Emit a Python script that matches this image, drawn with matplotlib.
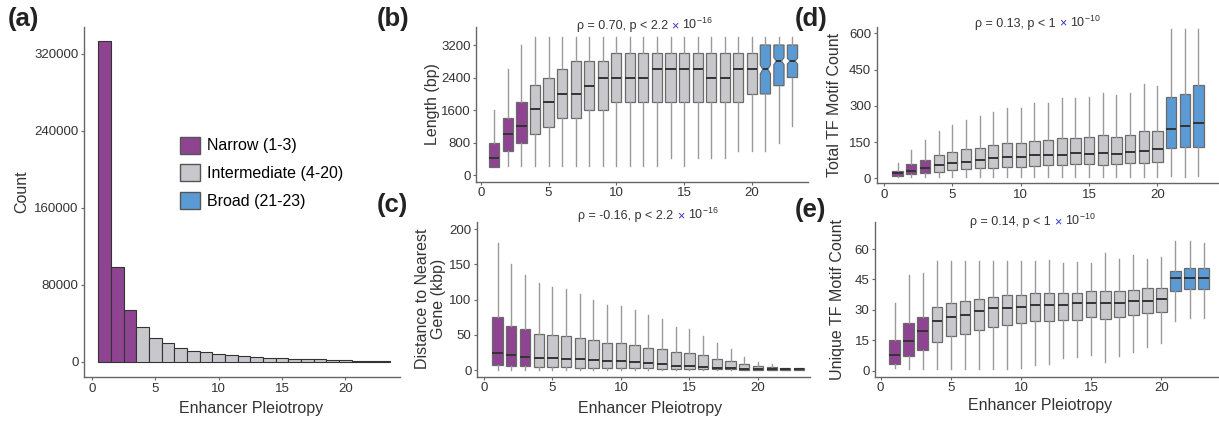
import matplotlib
matplotlib.use("Agg")
import numpy as np
import matplotlib.pyplot as plt
from matplotlib.patches import Patch

plt.rcParams['font.family'] = ['Liberation Sans', 'DejaVu Sans']
plt.rcParams['mathtext.default'] = 'regular'

PURPLE = '#8E4491'
GREY = '#C8C8CC'
BLUE = '#5B9BD5'

pleio = list(range(1, 24))
counts = [333000, 99000, 54000, 36000, 25300, 19400, 14900, 11700, 10700, 8000,
          7300, 6300, 5300, 4600, 4000, 3500, 3000, 2600, 2200, 1800, 1400, 1000, 700]

# (b) enhancer length (bp)
len_lo = [205, 230, 230, 230, 230, 230, 230, 230, 230, 230, 230, 230, 230,
          410, 230, 410, 410, 410, 600, 600, 600, 795, 1205]
len_q1 = [205, 600, 795, 1000, 1190, 1395, 1395, 1600, 1600, 1805, 1805, 1805, 1805,
          1805, 1805, 1805, 1805, 1805, 1805, 1995, 1995, 2200, 2400]
len_med = [410, 1010, 1205, 1615, 1805, 1995, 1995, 2200, 2400, 2400, 2400, 2400, 2600,
           2600, 2600, 2600, 2400, 2400, 2600, 2600, 2600, 2805, 2805]
len_q3 = [795, 1395, 1805, 2205, 2400, 2600, 2805, 2805, 2805, 3010, 3010, 3010, 3010,
          3010, 3010, 3010, 3010, 3010, 3010, 3010, 3200, 3200, 3200]
len_hi = [1600, 2600, 3200] + [3390] * 20

# (c) distance to nearest gene (kbp)
dist_lo = [0] * 23
dist_q1 = [7.1, 6.2, 6.2, 3.8, 3.8, 3.8, 3.5, 3.3, 3, 2.8, 2.5, 2.2, 2, 1.8, 1.5,
           1.3, 1, 0.8, 0.6, 0.5, 0.4, 0.3, 0.3]
dist_med = [23.7, 21.3, 19, 17.5, 16.6, 16, 15.6, 14.7, 13.3, 12.3, 11.4, 10, 8.5,
            6.2, 6, 4.7, 2.4, 2.4, 1.4, 1.4, 1.4, 1.2, 1.2]
dist_q3 = [75.8, 63, 57.8, 51, 50, 48, 46, 42, 39, 39, 35, 32, 30, 26, 24, 21, 15,
           12.8, 8, 6, 4, 3, 3]
dist_hi = [180, 150.7, 135, 124, 117.6, 114.7, 108, 100, 92.4, 91, 85, 78, 72, 61.6,
           57.8, 48, 38, 30, 19, 12, 8, 3.5, 3]

# (d) total TF motif count
tot_lo = [4] + [5] * 19 + [10, 5, 10]
tot_q1 = [11, 18, 21, 28, 34, 39, 41, 41, 45, 48, 51, 55, 55, 59, 59, 55, 59, 62, 62,
          69, 124, 131, 131]
tot_med = [20.7, 32, 41, 54, 62, 68, 76, 83, 87, 90, 97, 97, 97, 103, 101, 103, 101,
           110, 114, 121, 204, 216, 228]
tot_q3 = [31.7, 58, 76, 97, 110, 121, 127, 138, 145, 148, 156, 159, 165, 168, 172, 179,
          172, 179, 197, 197, 338, 349, 386]
tot_hi = [62, 117, 159, 196, 221, 241, 258, 273, 290, 292, 313, 314, 331, 331, 338, 354,
          345, 352, 390, 382, 620, 620, 620]

# (e) unique TF motif count
uni_lo = [1.2, 1, 1, 1, 1, 1, 1, 1, 1, 1.5, 3, 3.3, 6, 6.6, 7.7, 4.4, 7.2, 9.4, 11.5,
          13.5, 24.7, 25.8, 25.8]
uni_q1 = [3.3, 7.4, 10.2, 14.3, 17.3, 18, 20, 21.4, 22.5, 23.3, 24.7, 24.7, 25, 25, 26.3,
          25.3, 26.6, 27.5, 28.3, 29.1, 39.5, 40.1, 40.1]
uni_med = [7.7, 14.6, 19.7, 24.7, 26.6, 27.5, 29.4, 30.7, 30.7, 31.6, 32.4, 32.4, 32.4,
           33.2, 33.2, 33.2, 33.2, 34.5, 34.5, 35.3, 45.5, 45.5, 45.5]
uni_q3 = [15.1, 23.3, 26.3, 31.6, 33.2, 34.5, 35.3, 36.2, 37.3, 37.3, 38.1, 38.1, 38.1,
          38.1, 39.5, 39.5, 39.5, 39.8, 40.6, 40.6, 49.3, 50.5, 50.5]
uni_hi = [33.2, 47.2, 48.3, 54.3, 54.3, 54, 54, 54, 54, 54, 54, 54.6, 53, 53.8, 53, 58,
          55, 57, 55, 56.2, 64, 64, 62.8]

group_colors = [PURPLE] * 3 + [GREY] * 17 + [BLUE] * 3


def style_axes(ax):
    for s in ['top', 'right']:
        ax.spines[s].set_visible(False)
    for s in ['left', 'bottom']:
        ax.spines[s].set_color('#666666')
        ax.spines[s].set_linewidth(1.0)
    ax.tick_params(colors='#666666', labelcolor='#333333', labelsize=9.5, length=2.5,
                   width=0.8, pad=1.5)
    ax.set_xticks([0, 5, 10, 15, 20])


def draw_boxes(ax, lo, q1, med, q3, hi, idx, notch=False):
    stats = []
    for i in idx:
        d = dict(whislo=lo[i], q1=q1[i], med=med[i], q3=q3[i], whishi=hi[i], fliers=[])
        if notch:
            d['cilo'] = med[i] - 0.09 * (q3[i] - q1[i])
            d['cihi'] = med[i] + 0.09 * (q3[i] - q1[i])
        stats.append(d)
    res = ax.bxp(stats, positions=[pleio[i] for i in idx], widths=0.75,
                 patch_artist=True, showfliers=False, showcaps=False,
                 shownotches=notch, manage_ticks=False,
                 boxprops=dict(edgecolor='#6a6a6a', linewidth=0.9),
                 whiskerprops=dict(color='#9a9a9a', linewidth=1.0),
                 medianprops=dict(color='#333333', linewidth=1.4))
    for patch, i in zip(res['boxes'], idx):
        patch.set_facecolor(group_colors[i])


def stat_label(ax, x, y, prefix, exp):
    t1 = ax.text(x, y, prefix, transform=ax.transAxes, fontsize=9, color='#333333',
                 va='baseline', ha='left')
    t2 = ax.annotate('\u00d7', xy=(1, 0), xycoords=t1, xytext=(2.5, 0),
                     textcoords='offset points', fontsize=9, color='#3333CC',
                     va='bottom', ha='left')
    ax.annotate('10$^{' + exp + '}$', xy=(1, 0), xycoords=t2, xytext=(2.5, 0),
                textcoords='offset points', fontsize=9, color='#333333',
                va='bottom', ha='left')


fig = plt.figure(figsize=(12.19, 4.22), dpi=100)

# (a) histogram of pleiotropy
ax_a = fig.add_axes([0.0689, 0.1066, 0.2592, 0.8294])
ax_a.bar(pleio, counts, width=1.0, color=group_colors, edgecolor='#333333', linewidth=0.8)
style_axes(ax_a)
ax_a.set_xlim(-0.63, 24.3)
ax_a.set_ylim(-15600, 348000)
ax_a.set_yticks([0, 80000, 160000, 240000, 320000])
ax_a.set_xlabel('Enhancer Pleiotropy', fontsize=11.5, color='#333333')
ax_a.set_ylabel('Count', fontsize=11.5, color='#333333')
ax_a.yaxis.set_label_coords(-0.196, 0.53)
ax_a.xaxis.set_label_coords(0.53, -0.091)
ax_a.xaxis.label.set_va('center')
ax_a.yaxis.label.set_va('center')
handles = [Patch(facecolor=PURPLE, edgecolor='#555555', label='Narrow (1-3)'),
           Patch(facecolor=GREY, edgecolor='#555555', label='Intermediate (4-20)'),
           Patch(facecolor=BLUE, edgecolor='#555555', label='Broad (21-23)')]
ax_a.legend(handles=handles, loc='upper left', bbox_to_anchor=(0.283, 0.705),
            frameon=False, fontsize=11.5, handlelength=1.25, handleheight=1.25,
            labelspacing=0.68, handletextpad=0.45, borderaxespad=0)

# (b) length
ax_b = fig.add_axes([0.3905, 0.5694, 0.2724, 0.3666])
draw_boxes(ax_b, len_lo, len_q1, len_med, len_q3, len_hi, range(0, 20))
draw_boxes(ax_b, len_lo, len_q1, len_med, len_q3, len_hi, range(20, 23), notch=True)
style_axes(ax_b)
ax_b.set_xlim(-0.35, 24.15)
ax_b.set_ylim(-165, 3643)
ax_b.set_yticks([0, 800, 1600, 2400, 3200])
ax_b.set_ylabel('Length (bp)', fontsize=11.5, color='#333333')
ax_b.yaxis.set_label_coords(-0.13, 0.5)
ax_b.yaxis.label.set_va('center')
stat_label(ax_b, 0.303, 0.985, '\u03c1 = 0.70, p < 2.2', '-16')

# (c) distance to nearest gene
ax_c = fig.add_axes([0.3913, 0.1073, 0.2732, 0.3673])
draw_boxes(ax_c, dist_lo, dist_q1, dist_med, dist_q3, dist_hi, range(0, 23))
style_axes(ax_c)
ax_c.set_xlim(-0.5, 23.8)
ax_c.set_ylim(-9.5, 210.8)
ax_c.set_yticks([0, 50, 100, 150, 200])
ax_c.set_xlabel('Enhancer Pleiotropy', fontsize=11.5, color='#333333')
ax_c.set_ylabel('Distance to Nearest\nGene (kbp)', fontsize=11.5, color='#333333',
                linespacing=1.1)
ax_c.yaxis.set_label_coords(-0.14, 0.5)
ax_c.yaxis.label.set_va('center')
ax_c.xaxis.set_label_coords(0.52, -0.205)
ax_c.xaxis.label.set_va('center')
stat_label(ax_c, 0.304, 1.017, '\u03c1 = -0.16, p < 2.2', '-16')

# (d) total TF motif count
ax_d = fig.add_axes([0.7192, 0.5656, 0.2808, 0.3694])
draw_boxes(ax_d, tot_lo, tot_q1, tot_med, tot_q3, tot_hi, range(0, 23))
style_axes(ax_d)
ax_d.set_xlim(-0.53, 24.5)
ax_d.set_ylim(-20.7, 625)
ax_d.set_yticks([0, 150, 300, 450, 600])
ax_d.set_ylabel('Total TF Motif Count', fontsize=11.5, color='#333333')
ax_d.yaxis.set_label_coords(-0.122, 0.5)
ax_d.yaxis.label.set_va('center')
stat_label(ax_d, 0.287, 1.004, '\u03c1 = 0.13, p < 1', '-10')

# (e) unique TF motif count
ax_e = fig.add_axes([0.7178, 0.1073, 0.2822, 0.3673])
draw_boxes(ax_e, uni_lo, uni_q1, uni_med, uni_q3, uni_hi, range(0, 23))
style_axes(ax_e)
ax_e.set_xlim(-0.4, 24.1)
ax_e.set_ylim(-3, 73.5)
ax_e.set_yticks([0, 15, 30, 45, 60])
ax_e.set_xlabel('Enhancer Pleiotropy', fontsize=11.5, color='#333333')
ax_e.set_ylabel('Unique TF Motif Count', fontsize=11.5, color='#333333')
ax_e.yaxis.set_label_coords(-0.108, 0.5)
ax_e.yaxis.label.set_va('center')
ax_e.xaxis.set_label_coords(0.48, -0.185)
ax_e.xaxis.label.set_va('center')
stat_label(ax_e, 0.276, 0.979, '\u03c1 = 0.14, p < 1', '-10')

# panel letters
for lab, x, y in [('(a)', 8, 19), ('(b)', 377, 19), ('(c)', 377, 205),
                  ('(d)', 795, 19), ('(e)', 795, 210)]:
    fig.text(x / 1219, 1 - y / 422, lab, fontsize=18.5, fontweight='bold',
             color='#222222', ha='left', va='center')

fig.savefig('out.png', dpi=100)
